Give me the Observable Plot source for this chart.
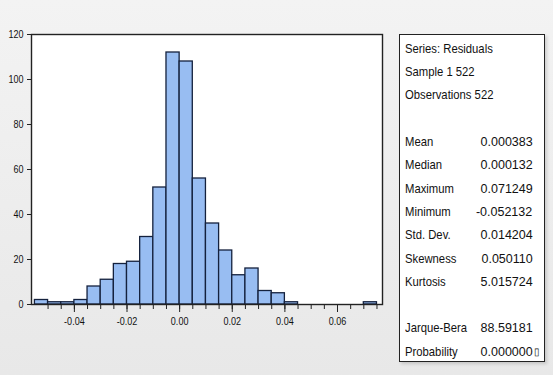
<!DOCTYPE html>
<html>
<head>
<meta charset="utf-8">
<script src="https://cdn.jsdelivr.net/npm/d3@7"></script>
<script src="https://cdn.jsdelivr.net/npm/@observablehq/plot@0.6"></script>
<style>
  html, body { margin: 0; padding: 0; }
  body { width: 553px; height: 375px; overflow: hidden; }
  #wrap {
    position: relative; width: 553px; height: 375px;
    background: linear-gradient(#f3f3f3, #e8e8e8);
    font-family: "Liberation Sans", Arial, sans-serif;
  }
  #chart { position: absolute; left: 0; top: 0; }
  #panel {
    position: absolute; left: 399px; top: 34px; width: 144px; height: 326px;
    background: #fff; border: 1.5px solid #222;
    box-shadow: 2px 2px 3px rgba(0,0,0,0.15);
  }
  .row { position: absolute; font-size: 13.6px; color: #111; line-height: 16px; white-space: nowrap; }
  .lab { transform: scaleX(0.83); transform-origin: left center; }
  .val { transform: scaleX(0.92); transform-origin: right center; text-align: right; }
</style>
</head>
<body>
<div id="wrap">
  <div id="chart"></div>
  <div id="panel"></div>
</div>
<script>
// Histogram data (residuals), bin lower edges and counts
const binWidth = 0.005;
const binLower = [-0.055, -0.050, -0.045, -0.040, -0.035, -0.030, -0.025, -0.020, -0.015, -0.010, -0.005,
                  0.000, 0.005, 0.010, 0.015, 0.020, 0.025, 0.030, 0.035, 0.040, 0.070];
const counts   = [2, 1, 1, 2, 8, 11, 18, 19, 30, 52, 112,
                  108, 56, 36, 24, 13, 16, 6, 5, 1, 1];

// Axis ticks
const yTicks = [0, 20, 40, 60, 80, 100, 120];
const xMajorTicks = [-0.04, -0.02, 0.00, 0.02, 0.04, 0.06];
const xMinorTicks = [-0.050, -0.045, -0.040, -0.035, -0.030, -0.025, -0.020, -0.015, -0.010, -0.005, 0.000,
                     0.005, 0.010, 0.015, 0.020, 0.025, 0.030, 0.035, 0.040, 0.045, 0.050, 0.055, 0.060,
                     0.065, 0.070, 0.075];

// Statistics panel
const headerLines = ["Series: Residuals", "Sample 1 522", "Observations 522"];
const statLabels = ["Mean", "Median", "Maximum", "Minimum", "Std. Dev.", "Skewness", "Kurtosis"];
const statValues = ["0.000383", "0.000132", "0.071249", "-0.052132", "0.014204", "0.050110", "5.015724"];
const testLabels = ["Jarque-Bera", "Probability"];
const testValues = ["88.59181", "0.000000"];

const bins = binLower.map((x, i) => ({x1: x, x2: x + binWidth, count: counts[i]}));

const chart = Plot.plot({
  width: 553,
  height: 375,
  marginLeft: 31,
  marginRight: 171,
  marginTop: 34,
  marginBottom: 71,
  style: {
    background: "transparent",
    fontFamily: '"Liberation Sans", Arial, sans-serif',
    fontSize: "11px",
    color: "#111",
    overflow: "visible"
  },
  x: {domain: [-0.0563, 0.0771], axis: null},
  y: {domain: [0, 120], axis: null},
  marks: [
    Plot.frame({fill: "white", stroke: "none"}),
    Plot.rectY(bins, {x1: "x1", x2: "x2", y: "count", fill: "#98bdf2", stroke: "#14213d", strokeWidth: 1.3}),
    Plot.frame({stroke: "#222", strokeWidth: 1.4}),
    Plot.axisY({ticks: yTicks, tickSize: 4, tickPadding: 4, label: null, stroke: "#222"}),
    Plot.axisX({ticks: xMinorTicks, tickSize: 5, tickFormat: () => "", label: null, stroke: "#222"}),
    Plot.axisX({ticks: xMajorTicks, tickSize: 8, tickPadding: 5, tickFormat: d => d.toFixed(2), label: null, stroke: "#222"})
  ]
});
document.getElementById("chart").appendChild(chart);
// condense tick label glyphs horizontally (narrow look of the original)
chart.querySelectorAll("text").forEach(t => {
  if (!t.textContent) return;
  const L = t.getComputedTextLength();
  if (L > 0) {
    t.setAttribute("textLength", (L * 0.82).toFixed(2));
    t.setAttribute("lengthAdjust", "spacingAndGlyphs");
  }
});

// Build panel rows
const panel = document.getElementById("panel");
const panelLeft = 399, panelTop = 34;
const rowY0 = 49.3, rowStep = 23.3;
function addText(txt, i, cls, align) {
  const s = document.createElement("div");
  s.className = "row " + (cls || "");
  s.textContent = txt;
  const cy = rowY0 + rowStep * i - panelTop - 1.5;
  s.style.top = (cy - 8) + "px";
  if (align === "right") { s.style.right = (545 - 532 - 1.5) + "px"; }
  else { s.style.left = (405 - panelLeft - 1.5) + "px"; }
  panel.appendChild(s);
  return s;
}
headerLines.forEach((t, i) => addText(t, i, "lab"));
statLabels.forEach((t, i) => { addText(t, 4 + i, "lab"); addText(statValues[i], 4 + i, "val", "right"); });
testLabels.forEach((t, i) => { addText(t, 12 + i, "lab"); addText(testValues[i], 12 + i, "val", "right"); });
// trailing box glyph after probability value
const box = document.createElement("div");
box.className = "row";
box.textContent = "\u25AF";
box.style.fontSize = "10px";
box.style.left = (532 - panelLeft + 0.5) + "px";
box.style.top = (rowY0 + rowStep * 13 - panelTop - 1.5 - 8) + "px";
panel.appendChild(box);
</script>
</body>
</html>
